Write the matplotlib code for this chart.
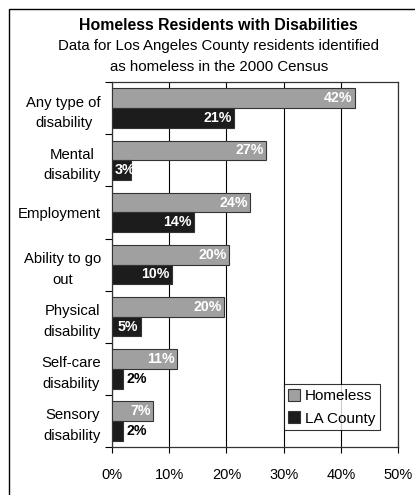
import numpy as np
import matplotlib.pyplot as plt
from matplotlib.patches import Rectangle
from matplotlib.ticker import FuncFormatter, FixedLocator

plt.rcParams['font.family'] = ['Liberation Sans', 'DejaVu Sans']

# data
categories = ['Any type of\ndisability', 'Mental\ndisability', 'Employment',
              'Ability to go\nout', 'Physical\ndisability', 'Self-care\ndisability',
              'Sensory\ndisability']
homeless = [42.4, 26.9, 24.2, 20.4, 19.6, 11.3, 7.2]
la_county = [21.4, 3.4, 14.4, 10.5, 5.0, 1.9, 1.9]
series_names = ['Homeless', 'LA County']
x_ticks = [0, 10, 20, 30, 40, 50]

fig = plt.figure(figsize=(4.15, 4.95), dpi=100)
ax = fig.add_axes([0.270, 0.097, 0.689, 0.737])

# outer chart border (only left and top are visible in the crop)
fig.patches.append(Rectangle((9 / 415, -0.05), 1.2, 1 - 9 / 495 + 0.05,
                             transform=fig.transFigure, fill=False,
                             edgecolor='black', linewidth=1.0))

y = np.arange(len(categories))
h = 0.38
b1 = ax.barh(y - h / 2, homeless, height=h, color='#a0a0a0', edgecolor='#333333',
             linewidth=0.8, label=series_names[0], zorder=3)
b2 = ax.barh(y + h / 2, la_county, height=h, color='#1c1c1c', edgecolor='#333333',
             linewidth=0.8, label=series_names[1], zorder=3)

# value labels
for bars, vals in [(b1, homeless), (b2, la_county)]:
    for bar, v in zip(bars, vals):
        cy = bar.get_y() + bar.get_height() / 2
        txt = f'{round(v):.0f}%'
        if v >= 4:
            ax.text(v - 0.4, cy, txt, ha='right', va='center', color='white',
                    fontsize=10.2, fontweight='bold', zorder=4)
        elif v >= 3:
            # too narrow: starts at the bar base
            ax.text(0.5, cy, txt, ha='left', va='center', color='white',
                    fontsize=10.2, fontweight='bold', zorder=4)
        else:
            ax.text(v + 0.6, cy, txt, ha='left', va='center', color='black',
                    fontsize=10.2, fontweight='bold', zorder=4)

ax.set_xlim(0, 50)
ax.set_ylim(len(categories) - 0.5, -0.5)
ax.xaxis.set_major_locator(FixedLocator(x_ticks))
ax.xaxis.set_major_formatter(FuncFormatter(lambda v, p: f'{v:.0f}%'))
ax.grid(axis='x', color='black', linewidth=0.8, zorder=0)

# categories as labels, ticks at the boundaries
ax.set_yticks(y)
ax.set_yticklabels(categories, fontsize=10.7, multialignment='center',
                   linespacing=1.6)
ax.tick_params(axis='y', length=0, pad=8)
ax.set_yticks(np.arange(len(categories) + 1) - 0.5, minor=True)
ax.tick_params(axis='y', which='minor', length=5, width=0.8, direction='out')
ax.tick_params(axis='x', length=4, width=0.8, direction='out', labelsize=10.5, pad=11)

for s in ax.spines.values():
    s.set_linewidth(0.9)
    s.set_color('#333333')

leg = ax.legend(loc='lower right', bbox_to_anchor=(0.937, 0.046), fontsize=11,
                frameon=True, fancybox=False, edgecolor='black',
                handlelength=0.8, handleheight=0.8, handletextpad=0.3,
                borderpad=0.3, labelspacing=0.55, borderaxespad=0)
leg.get_frame().set_linewidth(0.8)

fig.text(0.527, 1 - 25 / 495, 'Homeless Residents with Disabilities', ha='center',
         va='center', fontsize=11.4, fontweight='bold')
fig.text(0.527, 1 - 46 / 495, 'Data for Los Angeles County residents identified',
         ha='center', va='center', fontsize=10.8)
fig.text(0.527, 1 - 67 / 495, 'as homeless in the 2000 Census',
         ha='center', va='center', fontsize=10.8)

fig.savefig('out.png', dpi=100)
